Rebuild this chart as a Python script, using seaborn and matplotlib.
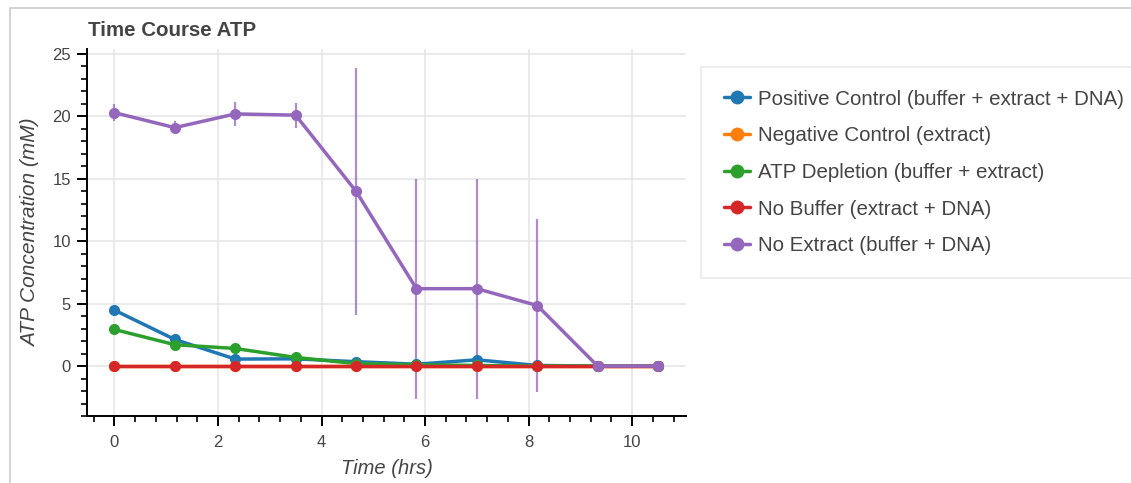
import numpy as np
import pandas as pd
import matplotlib
matplotlib.use("Agg")
import matplotlib.pyplot as plt
from matplotlib.patches import Rectangle
from matplotlib.lines import Line2D
from matplotlib.ticker import MultipleLocator
import seaborn as sns

# ---- data ----
time_hrs = [0, 1.167, 2.333, 3.5, 4.667, 5.833, 7.0, 8.167, 9.333, 10.5]
series_names = [
    "Positive Control (buffer + extract + DNA)",
    "Negative Control (extract)",
    "ATP Depletion (buffer + extract)",
    "No Buffer (extract + DNA)",
    "No Extract (buffer + DNA)",
]
positive_control = [4.48, 2.13, 0.56, 0.58, 0.35, 0.15, 0.5, 0.05, 0.0, 0.0]
negative_control = [0.0, 0.0, 0.0, 0.0, 0.0, 0.0, 0.0, 0.0, 0.0, 0.0]
atp_depletion = [2.93, 1.71, 1.41, 0.69, 0.2, 0.1, 0.05, 0.0, 0.0, 0.0]
no_buffer = [0.0, 0.0, 0.0, 0.0, 0.0, 0.0, 0.0, 0.0, 0.0, 0.0]
no_extract = [20.3, 19.1, 20.2, 20.1, 14.0, 6.2, 6.2, 4.85, 0.0, 0.0]
no_extract_err = [0.7, 0.5, 0.95, 1.0, 9.9, 8.8, 8.8, 6.9, 0.0, 0.0]
colors = ["#1f77b4", "#ff7f0e", "#2ca02c", "#d62728", "#9467bd"]

values = [positive_control, negative_control, atp_depletion, no_buffer, no_extract]
df = pd.DataFrame({
    "time": np.tile(time_hrs, len(series_names)),
    "conc": np.concatenate(values),
    "series": np.repeat(series_names, len(time_hrs)),
})

sns.set_theme(style="white")
plt.rcParams["font.family"] = ["Liberation Sans", "DejaVu Sans"]

fig = plt.figure(figsize=(11.31, 4.83), dpi=100)
ax = fig.add_axes([87 / 1131, 1 - 416 / 483, (686 - 87) / 1131, (416 - 49) / 483])

# error bars for No Extract
ax.errorbar(time_hrs, no_extract, yerr=no_extract_err, fmt="none",
            ecolor="#9467bd", alpha=0.75, elinewidth=1.6, capsize=0, zorder=2)

sns.lineplot(data=df, x="time", y="conc", hue="series", hue_order=series_names,
             palette=colors, marker="o", markersize=8, markeredgewidth=0,
             linewidth=2.5, ax=ax, legend=False, zorder=3, sort=False)

ax.set_xlim(-0.53, 11.04)
ax.set_ylim(-4.0, 25.4)
ax.xaxis.set_major_locator(MultipleLocator(2))
ax.xaxis.set_minor_locator(MultipleLocator(0.4))
ax.yaxis.set_major_locator(MultipleLocator(5))
ax.yaxis.set_minor_locator(MultipleLocator(1))
ax.grid(True, which="major", color="#e6e6e6", linewidth=1.2)
ax.set_axisbelow(True)

for s in ["top", "right"]:
    ax.spines[s].set_visible(False)
for s in ["left", "bottom"]:
    ax.spines[s].set_color("black")
    ax.spines[s].set_linewidth(1.4)

ax.tick_params(which="major", direction="out", length=7.5, width=1.4, color="black",
               labelsize=12, labelcolor="#444444", pad=4,
               left=True, bottom=True)
ax.tick_params(axis="x", which="major", pad=6)
ax.tick_params(which="minor", direction="out", length=4.5, width=1.2, color="black",
               left=True, bottom=True)

ax.set_xlabel("Time (hrs)", fontsize=14.5, fontstyle="italic", color="#444444")
ax.set_ylabel("ATP Concentration (mM)", fontsize=15, fontstyle="italic", color="#444444")
ax.xaxis.set_label_coords(0.5, -0.118)
ax.yaxis.set_label_coords(-0.078, 0.5)

fig.text(88 / 1131, 1 - 30 / 483, "Time Course ATP", fontsize=14.8, fontweight="bold",
         color="#444444", va="center", ha="left")

# figure border
fig.patches.append(Rectangle((10 / 1131, -0.05), 1.2, 1 - 8 / 483 + 0.05,
                             transform=fig.transFigure, fill=False,
                             edgecolor="#cccccc", linewidth=1.2))

handles = [Line2D([0], [0], color=c, lw=2.5, marker="o", markersize=10, markeredgewidth=0)
           for c in colors]
leg = fig.legend(handles, series_names, loc="upper left",
                 bbox_to_anchor=(701 / 1131, 1 - 67 / 483), bbox_transform=fig.transFigure,
                 fontsize=14.8, frameon=True, fancybox=False, edgecolor="#e5e5e5",
                 handlelength=1.3, handletextpad=0.38, labelspacing=0.86,
                 borderpad=1.1, borderaxespad=0)
for t in leg.get_texts():
    t.set_color("#444444")
leg.get_frame().set_linewidth(1.2)

fig.savefig("out.png", dpi=100)
